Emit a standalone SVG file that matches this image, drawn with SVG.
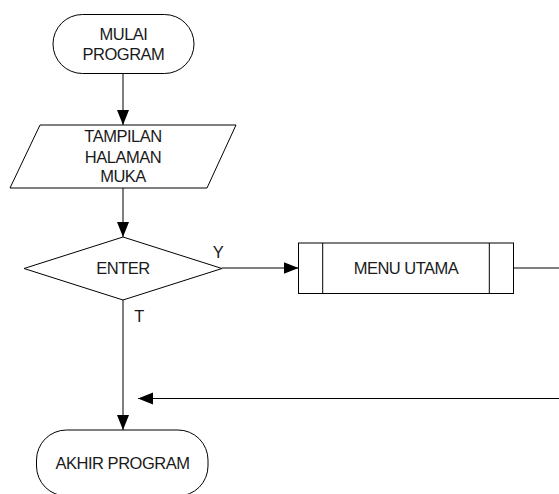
<svg xmlns="http://www.w3.org/2000/svg" width="559" height="494" viewBox="0 0 559 494">
<style>
.s{fill:#fff;stroke:#000;stroke-width:1}
.t{font-family:"Liberation Sans",Arial,sans-serif;font-size:16.5px;letter-spacing:-0.5px;fill:#1a1a1a;text-anchor:middle}
.c{fill:none;stroke:#000;stroke-width:1}
</style>
<defs>
<marker id="ah" markerUnits="userSpaceOnUse" markerWidth="16" markerHeight="13" refX="15" refY="6.5" orient="auto" viewBox="0 0 16 13">
<path d="M0,0.5 L15,6.5 L0,12.5 z" fill="#000"/>
</marker>
</defs>
<rect width="559" height="494" fill="#fff"/>
<g id="connectors">
<line class="c" x1="123" y1="73" x2="123" y2="125" marker-end="url(#ah)"/>
<line class="c" x1="123" y1="188" x2="123" y2="237" marker-end="url(#ah)"/>
<line class="c" x1="222" y1="268" x2="298.5" y2="268" marker-end="url(#ah)"/>
<line class="c" x1="513" y1="268" x2="559" y2="268"/>
<line class="c" x1="559" y1="398.5" x2="138" y2="398.5" marker-end="url(#ah)"/>
<line class="c" x1="123" y1="300" x2="123" y2="430" marker-end="url(#ah)"/>
<text class="t" x="218" y="258">Y</text>
<text class="t" x="139" y="322">T</text>
</g>
<g id="start">
<rect class="s" x="53" y="14.5" width="141" height="59" rx="29.5" ry="29.5"/>
<text class="t" x="123.5" y="39.5">MULAI</text>
<text class="t" x="123.5" y="59.5">PROGRAM</text>
</g>
<g id="display">
<polygon class="s" points="40,125 236,125 207,188 10,188"/>
<text class="t" x="123" y="142">TAMPILAN</text>
<text class="t" x="123" y="162.5">HALAMAN</text>
<text class="t" x="123" y="182">MUKA</text>
</g>
<g id="decision">
<polygon class="s" points="123,237 222,268.5 123,300 24,268.5"/>
<text class="t" x="123" y="273.5">ENTER</text>
</g>
<g id="menu">
<rect class="s" x="298.5" y="243" width="215" height="50.5"/>
<line class="c" x1="322.7" y1="243" x2="322.7" y2="293.5"/>
<line class="c" x1="489.3" y1="243" x2="489.3" y2="293.5"/>
<text class="t" x="406" y="273.5">MENU UTAMA</text>
</g>
<g id="end">
<rect class="s" x="36.5" y="430" width="171.5" height="66" rx="30" ry="30"/>
<text class="t" x="122.5" y="468.5">AKHIR PROGRAM</text>
</g>
</svg>
